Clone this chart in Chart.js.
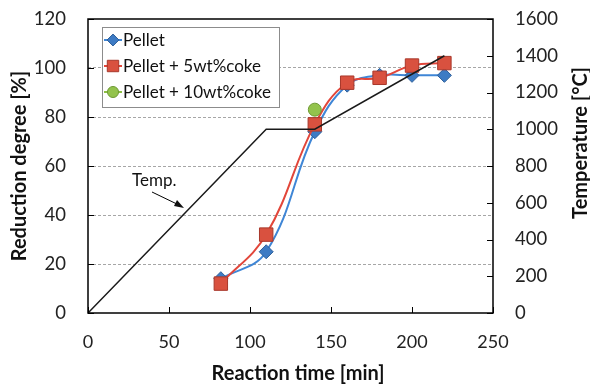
<!DOCTYPE html>
<html>
<head>
<meta charset="utf-8">
<script src="https://cdn.jsdelivr.net/npm/chart.js@4.4.1/dist/chart.umd.min.js"></script>
<style>
  html, body { margin: 0; padding: 0; background: #fff; }
  #wrap { width: 590px; height: 385px; }
</style>
</head>
<body>
<div id="wrap"><canvas id="reductionChart" width="590" height="385"></canvas></div>
<script>
// Reaction time [min] of the sampled points
var sampleTimes = [82, 110, 140, 160, 180, 200, 220];
// Reduction degree [%]
var pelletValues = [14, 25, 74, 93, 97, 97, 97];
var coke5Values = [12, 32, 77, 94, 96, 101, 102];
var coke10Times = [140];
var coke10Values = [83];
// Temperature programme
var tempTimes = [0, 110, 140, 220];
var tempValues = [0, 1000, 1000, 1400];

var xTicks = [0, 50, 100, 150, 200, 250];
var leftTicks = [0, 20, 40, 60, 80, 100, 120];
var rightTicks = [0, 200, 400, 600, 800, 1000, 1200, 1400, 1600];

var FONT = "Lato, 'Open Sans', sans-serif";

function toPoints(xs, ys) {
  return xs.map(function(x, i) { return { x: x, y: ys[i] }; });
}

// frame, inward ticks, legend, titles and the "Temp." note
var decorations = {
  id: "decorations",
  afterDatasetsDraw: function(chart) {
    var ctx = chart.ctx;
    var a = chart.chartArea;
    var sx = chart.scales.x, sy = chart.scales.y, sy2 = chart.scales.y2;
    ctx.save();
    ctx.strokeStyle = "#000";
    ctx.lineWidth = 1.5;
    ctx.strokeRect(a.left, a.top, a.right - a.left, a.bottom - a.top);
    ctx.lineWidth = 1;
    ctx.beginPath();
    xTicks.forEach(function(v) {
      var px = Math.round(sx.getPixelForValue(v)) + 0.5;
      ctx.moveTo(px, a.bottom); ctx.lineTo(px, a.bottom - 6);
    });
    leftTicks.forEach(function(v) {
      var py = Math.round(sy.getPixelForValue(v)) + 0.5;
      ctx.moveTo(a.left, py); ctx.lineTo(a.left + 6, py);
    });
    rightTicks.forEach(function(v) {
      var py = Math.round(sy2.getPixelForValue(v)) + 0.5;
      ctx.moveTo(a.right, py); ctx.lineTo(a.right - 6, py);
    });
    ctx.stroke();

    // "Temp." label with arrow
    ctx.fillStyle = "#111";
    ctx.font = "17px " + FONT;
    ctx.textAlign = "left";
    ctx.textBaseline = "middle";
    ctx.fillText("Temp.", 132, 181);
    ctx.beginPath();
    ctx.moveTo(152, 192); ctx.lineTo(181, 206);
    ctx.stroke();
    ctx.beginPath();
    ctx.moveTo(184, 208); ctx.lineTo(174, 206); ctx.lineTo(177, 200);
    ctx.closePath();
    ctx.fill();
    ctx.restore();
  },
  afterDraw: function(chart) {
    var ctx = chart.ctx;
    ctx.save();
    // legend box
    ctx.fillStyle = "#fff";
    ctx.fillRect(102, 27, 177, 80);
    ctx.strokeStyle = "#8c8c8c";
    ctx.lineWidth = 1;
    ctx.strokeRect(102.5, 27.5, 177, 80);
    var items = chart.data.datasets.filter(function(d) { return d.showInLegend; });
    items.sort(function(p, q) { return p.legendIndex - q.legendIndex; });
    items.forEach(function(d, i) {
      var cy = 40 + i * 26;
      ctx.strokeStyle = d.borderColor;
      ctx.lineWidth = 2;
      ctx.beginPath();
      ctx.moveTo(104, cy); ctx.lineTo(122, cy);
      ctx.stroke();
      ctx.lineWidth = 1;
      ctx.fillStyle = d.pointBackgroundColor;
      ctx.strokeStyle = d.pointBorderColor;
      Chart.helpers.drawPoint(ctx, {
        pointStyle: d.pointStyle, radius: d.pointRadius * 0.85, borderWidth: 1
      }, 113, cy);
      ctx.fillStyle = "#111";
      ctx.font = "17px " + FONT;
      ctx.textAlign = "left";
      ctx.textBaseline = "middle";
      ctx.fillText(d.label, 123, cy + 1);
    });

    // axis titles
    ctx.fillStyle = "#111";
    ctx.font = "bold 20px " + FONT;
    ctx.textAlign = "center";
    ctx.textBaseline = "middle";
    ctx.fillText("Reaction time [min]", 298, 374);
    ctx.save();
    ctx.translate(20, 166);
    ctx.rotate(-Math.PI / 2);
    ctx.fillText("Reduction degree [%]", 0, 0);
    ctx.restore();
    ctx.save();
    ctx.translate(581, 143);
    ctx.rotate(-Math.PI / 2);
    ctx.fillText("Temperature [\u00B0C]", 0, 0);
    ctx.restore();
    ctx.restore();
  }
};

// pin the vertical scales so the plot box sits where the original does
function fitVertical(width) {
  return function(scale) {
    scale.width = width;
    scale.paddingTop = 0;
    scale.paddingBottom = 0;
  };
}

var ctx = document.getElementById("reductionChart").getContext("2d");

var reductionChart = new Chart(ctx, {
  type: "line",
  data: {
    datasets: [
      {
        label: "Temp.",
        data: toPoints(tempTimes, tempValues),
        yAxisID: "y2",
        borderColor: "#1a1a1a",
        borderWidth: 1.5,
        pointRadius: 0,
        tension: 0,
        order: 0
      },
      {
        label: "Pellet + 10wt%coke",
        data: toPoints(coke10Times, coke10Values),
        yAxisID: "y",
        showInLegend: true,
        legendIndex: 2,
        borderColor: "#8dbf45",
        pointStyle: "circle",
        pointRadius: 6.5,
        pointBackgroundColor: "#93c34c",
        pointBorderColor: "#6f9a35",
        pointBorderWidth: 1,
        showLine: false,
        order: 1
      },
      {
        label: "Pellet + 5wt%coke",
        data: toPoints(sampleTimes, coke5Values),
        yAxisID: "y",
        showInLegend: true,
        legendIndex: 1,
        borderColor: "#e2463a",
        borderWidth: 2,
        tension: 0.4,
        pointStyle: "rect",
        pointRadius: 9.5,
        pointBackgroundColor: "#d9513f",
        pointBorderColor: "#a8382b",
        pointBorderWidth: 1,
        order: 2
      },
      {
        label: "Pellet",
        data: toPoints(sampleTimes, pelletValues),
        yAxisID: "y",
        showInLegend: true,
        legendIndex: 0,
        borderColor: "#3f86d6",
        borderWidth: 2,
        tension: 0.4,
        pointStyle: "rectRot",
        pointRadius: 7,
        pointBackgroundColor: "#3d7bc4",
        pointBorderColor: "#2c5e99",
        pointBorderWidth: 1,
        order: 3
      }
    ]
  },
  options: {
    responsive: false,
    animation: false,
    layout: { padding: { top: 19, left: 0, right: 0, bottom: 0 } },
    plugins: {
      legend: { display: false },
      tooltip: { enabled: false }
    },
    scales: {
      x: {
        type: "linear",
        min: 0,
        max: 250,
        afterBuildTicks: function(scale) {
          scale.ticks = xTicks.map(function(v) { return { value: v }; });
        },
        afterFit: function(scale) {
          scale.height = 72;
          scale.paddingLeft = 0;
          scale.paddingRight = 0;
        },
        grid: { display: false, drawTicks: false },
        border: { display: false },
        ticks: {
          color: "#222", font: { family: FONT, size: 18 }, padding: 18, maxRotation: 0,
          callback: function(v) { return String(v); }
        }
      },
      y: {
        position: "left",
        min: 0,
        max: 120,
        afterBuildTicks: function(scale) {
          scale.ticks = leftTicks.map(function(v) { return { value: v }; });
        },
        afterFit: fitVertical(88),
        grid: {
          drawTicks: false,
          color: function(c) {
            return (c.tick && (c.tick.value === 0 || c.tick.value === 120)) ? "rgba(0,0,0,0)" : "#a6a6a6";
          },
          lineWidth: 1
        },
        border: { display: false, dash: [3, 2] },
        ticks: {
          color: "#222", font: { family: FONT, size: 18.5 }, padding: 22,
          callback: function(v) { return String(v); }
        }
      },
      y2: {
        position: "right",
        min: 0,
        max: 1600,
        afterBuildTicks: function(scale) {
          scale.ticks = rightTicks.map(function(v) { return { value: v }; });
        },
        afterFit: fitVertical(97),
        grid: { display: false, drawTicks: false },
        border: { display: false },
        ticks: {
          color: "#222", font: { family: FONT, size: 18.5 }, padding: 22,
          callback: function(v) { return String(v); }
        }
      }
    }
  },
  plugins: [decorations]
});
</script>
</body>
</html>
